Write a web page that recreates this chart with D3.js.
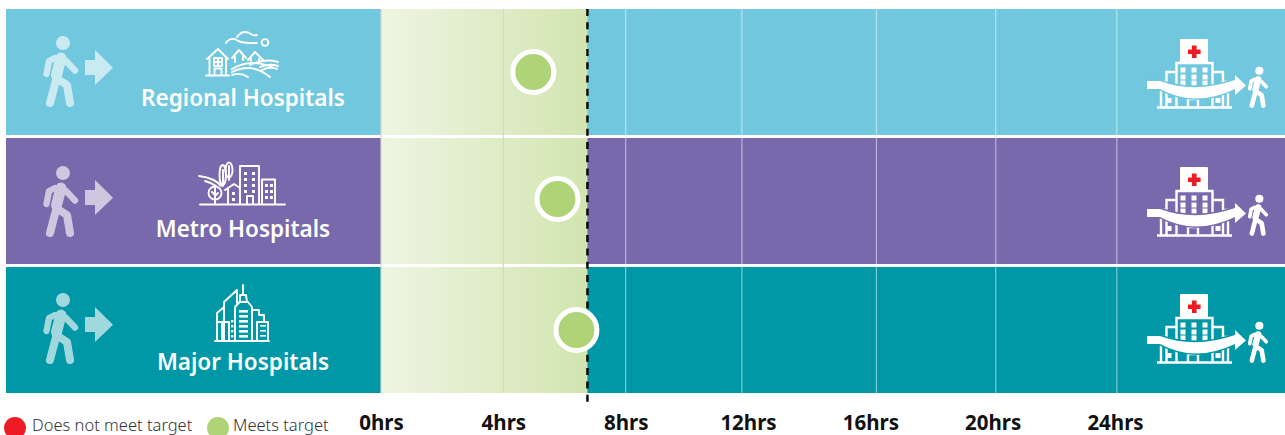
<!DOCTYPE html>
<html>
<head>
<meta charset="utf-8">
<script src="https://cdn.jsdelivr.net/npm/d3@7/dist/d3.min.js"></script>
<style>
html,body{margin:0;padding:0;background:#fff;overflow:hidden}
svg{display:block}
text{font-family:"Noto Sans",sans-serif}
</style>
</head>
<body>
<svg id="chart" width="1285" height="435"></svg>
<script>
// Hospital groups and the typical stay in hours for each
const rowNames = ["Regional Hospitals", "Metro Hospitals", "Major Hospitals"];
const stayHours = [4.98, 5.77, 6.39];
const rowColours = ["#71c7dd", "#7769ab", "#0097a7"];
const targetHours = 6.75;
const tickHours = [0, 4, 8, 12, 16, 20, 24];
const gridHours = [0, 4, 8, 11.8, 16.2, 20.1, 24.06];
const legendLabels = ["Does not meet target", "Meets target"];
const legendColours = ["#ed1c24", "#afd478"];

const W = 1285;
const svg = d3.select("#chart");
const defs = svg.append("defs");

const x = d3.scaleLinear().domain([0, 24]).range([381, 1115]);
const rowH = 126;
const rowTop = (n, i) => 9 + i * 129;

const grad = defs.append("linearGradient").attr("id", "bandFill");
grad.append("stop").attr("offset", "0%").attr("stop-color", "#eef5e2");
grad.append("stop").attr("offset", "100%").attr("stop-color", "#d2e5b0");

// Coloured bands
svg.selectAll("rect.row").data(rowNames).join("rect").attr("class", "row")
  .attr("x", 6).attr("width", W - 6)
  .attr("y", rowTop).attr("height", rowH)
  .attr("fill", (d, i) => rowColours[i]);

// Within-target zone
svg.selectAll("rect.zoneFill").data(rowNames).join("rect").attr("class", "zoneFill")
  .attr("x", x(0)).attr("width", x(targetHours) - x(0))
  .attr("y", rowTop).attr("height", rowH)
  .attr("fill", "url(#bandFill)");

// Hour gridlines
svg.selectAll("line.grid").data(gridHours).join("line").attr("class", "grid")
  .attr("x1", d => x(d)).attr("x2", d => x(d))
  .attr("y1", 9).attr("y2", 393)
  .attr("stroke", d => d < targetHours ? "#d3d8c8" : "#fff")
  .attr("stroke-opacity", d => d < targetHours ? 1 : 0.5)
  .attr("stroke-width", 1.2);

// Target marker
svg.append("line")
  .attr("x1", x(targetHours)).attr("x2", x(targetHours))
  .attr("y1", 9).attr("y2", 406)
  .attr("stroke", "#000").attr("stroke-width", 2.4).attr("stroke-dasharray", "7 6.3");

// Result dots
const dotNudge = [0, -2, 0];
svg.selectAll("circle.stay").data(stayHours).join("circle").attr("class", "stay")
  .attr("cx", d => x(d))
  .attr("cy", (d, i) => rowTop(null, i) + rowH / 2 + dotNudge[i])
  .attr("r", 20.5)
  .attr("fill", legendColours[1]).attr("stroke", "#fff").attr("stroke-width", 5);

// Icon: person walking
function walker(g, colour) {
  g.append("circle").attr("cx", 63).attr("cy", 43).attr("r", 7).attr("fill", colour);
  const limbs = [
    ["M61 58 L56.5 75", 11],
    ["M55 58 L49 61 L46.5 74", 6.4],
    ["M66 61 L75 70.5", 6.4],
    ["M56 78 L67 85 L70 103", 8],
    ["M55.5 82 L50 103", 8]
  ];
  limbs.forEach(([p, w]) => g.append("path").attr("d", p).attr("fill", "none")
    .attr("stroke", colour).attr("stroke-width", w)
    .attr("stroke-linecap", "round").attr("stroke-linejoin", "round"));
}

// Entry figure and arrow at the left of each row
const entryShift = [0, 130, 257];
rowNames.forEach((n, i) => {
  const g = svg.append("g").attr("transform", `translate(0,${entryShift[i]})`).attr("opacity", 0.63);
  walker(g, "#fff");
  g.append("path").attr("d", "M85 60 H95 V50 L113 67.7 L95 85 V75 H85 Z").attr("fill", "#fff");
});

const outline = g => g.attr("fill", "none").attr("stroke", "#fff")
  .attr("stroke-width", 1.9).attr("stroke-linecap", "round").attr("stroke-linejoin", "round");

// Icon: houses among rolling hills
const regional = svg.append("g").call(outline);
regional.append("path").attr("d",
  "M207 59 L218 49 L228 59 M209.5 57 V75.5 M226 57 V75.5 M206 75.5 H229 " +
  "M214 58 H222 V66 H214 Z M218 58 V66 M214 62 H222 M214.5 75.5 V68.5 H221.5 V75.5 " +
  "M232 58 L239 50 L246 58 M235 57 V62 M243 56 V60 " +
  "M248 60 L255 52 L263 60 M251 59 V61 M259 59 V61 " +
  "M250 65 Q264 58 278 62 M232 69 Q250 58 272 67 M232 72 Q252 62 270 77 " +
  "M232 75 Q240 72 248 77 M260 67 Q270 63 278 66 M262 70 Q270 66 277 69");
regional.append("path").attr("d",
  "M226 43 Q229 38 235 39 Q240 43 250 43 H257 M237 37 Q243 29 251 34 Q254 36 257 35");
regional.append("circle").attr("cx", 265).attr("cy", 42.5).attr("r", 3.4);

// Icon: mid-rise suburb with trees
const metro = svg.append("g").call(outline);
metro.append("path").attr("d",
  "M200 204.5 H285 M240 204 V166 H259 V204 M262 204 V179.5 H275 V204 M247 204 V196 H253 V204 " +
  "M225 190 L234 184 L240 188 M228 188 V204 M199 176 Q215 178 221 186 M205 181 Q212 183 216 186");
metro.append("circle").attr("cx", 215).attr("cy", 193).attr("r", 6.5);
metro.append("path").attr("d", "M215 188 V204 M215 195 L212 192 M215 196 L218 193");
metro.append("ellipse").attr("cx", 222.7).attr("cy", 175).attr("rx", 3.2).attr("ry", 10);
metro.append("ellipse").attr("cx", 229).attr("cy", 170).attr("rx", 3.5).attr("ry", 7.5);
metro.append("path").attr("d", "M223 170 V186 M229 166 V180");
const metroWindows = svg.append("g").attr("fill", "#fff");
[[244, 172], [252, 172], [244, 178], [252, 178], [244, 184], [252, 184], [244, 190], [252, 190],
 [265, 184], [270, 184], [265, 190], [270, 190], [265, 196], [270, 196], [232, 192], [232, 198]]
  .forEach(([a, b]) => metroWindows.append("rect").attr("x", a).attr("y", b).attr("width", 3).attr("height", 3));

// Icon: high-rise skyline
const major = svg.append("g").call(outline);
major.append("path").attr("d",
  "M215 341 H269 M243 285 V295 M240 295 H246 L247 302 H240 Z M235 341 V307 L239.5 302 H248 L252 307 V341 " +
  "M224 341 V302 L237 290 V303 M217 341 V313 L224 307 " +
  "M217 322 H229 V341 M222 322 V341 M252 310 H259 V315 H264 V322 M257 341 V322 H268 V341");
const majorBars = svg.append("g").attr("fill", "#fff");
[310, 315, 320, 325, 330, 335].forEach(b => majorBars.append("rect")
  .attr("x", 239).attr("y", b).attr("width", 9).attr("height", 2.6));
[325, 330, 335].forEach(b => majorBars.append("rect")
  .attr("x", 260).attr("y", b).attr("width", 6).attr("height", 1.6));
[320, 325, 330, 335].forEach(b => majorBars.append("rect")
  .attr("x", 231).attr("y", b).attr("width", 2.4).attr("height", 2.4));

// Icon: hospital with discharge arrow and departing person
function hospital(g, colour) {
  g.append("rect").attr("x", 1180).attr("y", 39).attr("width", 28).attr("height", 23).attr("rx", 1).attr("fill", "#fff");
  g.append("path").attr("d", "M1192 45.5 h4.6 v4 h4 v4.6 h-4 v4 h-4.6 v-4 h-4 v-4.6 h4 Z").attr("fill", "#ed1c24");
  g.append("path").attr("fill", "none").attr("stroke", "#fff").attr("stroke-width", 2.4)
    .attr("d", "M1176.5 107 V63 H1212.5 V107 M1176 72 H1166.5 V107 M1213 72 H1223 V107 " +
      "M1166 82 H1161 V107 M1223 82 H1228 V107 M1157 107.5 H1232 M1188 107 V99 H1198 V107");
  [1183, 1194, 1205].forEach(a => [70, 77, 83].forEach(b => g.append("rect")
    .attr("x", a - 2.5).attr("y", b - 2.5).attr("width", 5).attr("height", 5).attr("fill", "#fff")));
  [1169, 1218].forEach(a => g.append("rect").attr("x", a - 2.5).attr("y", 98).attr("width", 5).attr("height", 5).attr("fill", "#fff"));
  const band = "M1147 81 H1160 Q1195 94 1235 80 V75 L1246 85.5 L1235 95 V89 Q1195 108 1160 89 H1147 Z";
  g.append("path").attr("d", band).attr("fill", colour).attr("stroke", colour).attr("stroke-width", 3);
  g.append("path").attr("d", band).attr("fill", "#fff");
  walker(g.append("g").attr("transform", "translate(1222.8,45.8) scale(0.58)"), "#fff");
}
const exitShift = [0, 128, 255];
rowNames.forEach((n, i) => hospital(svg.append("g").attr("transform", `translate(0,${exitShift[i]})`), rowColours[i]));

// Row names
const nameBaseline = [106, 237, 370];
svg.selectAll("text.rowName").data(rowNames).join("text").attr("class", "rowName")
  .attr("x", 243).attr("y", (d, i) => nameBaseline[i])
  .attr("text-anchor", "middle").attr("fill", "#fff")
  .attr("font-size", 22.5).attr("font-weight", 600)
  .text(d => d);

// Hour axis
const axis = d3.axisBottom(x).tickValues(tickHours).tickFormat(d => d + "hrs").tickSize(0).tickPadding(0);
const axisG = svg.append("g").attr("transform", "translate(0,415)").call(axis);
axisG.select(".domain").remove();
axisG.selectAll("text").attr("fill", "#111")
  .style("font-family", '"Noto Sans",sans-serif').style("font-size", "20.5px").style("font-weight", 700);

// Legend
const legendDotX = [15, 218];
const legendTextX = [32, 233];
svg.selectAll("circle.key").data(legendLabels).join("circle").attr("class", "key")
  .attr("cx", (d, i) => legendDotX[i]).attr("cy", 428).attr("r", 11)
  .attr("fill", (d, i) => legendColours[i]);
svg.selectAll("text.key").data(legendLabels).join("text").attr("class", "key")
  .attr("x", (d, i) => legendTextX[i]).attr("y", 431)
  .attr("fill", "#333").attr("font-size", 16.5).attr("font-weight", 300)
  .text(d => d);
</script>
</body>
</html>
